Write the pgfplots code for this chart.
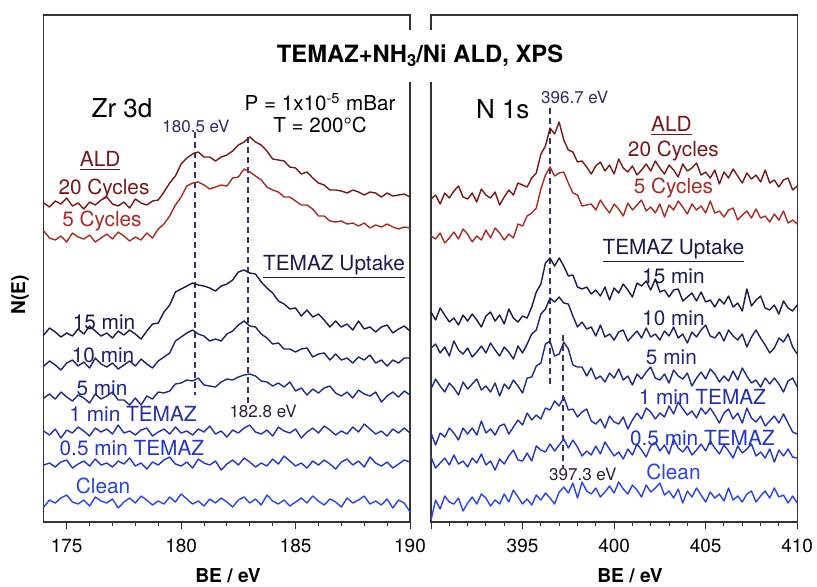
\documentclass[border=0pt]{standalone}
\usepackage{pgfplots}
\pgfplotsset{compat=1.18}
\usepackage{pgfplotstable}
\usepackage{fontspec}
\setmainfont{TeX Gyre Heros}

\definecolor{ca}{HTML}{761818}
\definecolor{cb}{HTML}{A62C25}
\definecolor{cc}{HTML}{161B48}
\definecolor{cd}{HTML}{1B2266}
\definecolor{ce}{HTML}{1F2A82}
\definecolor{cf}{HTML}{2430A8}
\definecolor{cg}{HTML}{2337C6}
\definecolor{ch}{HTML}{2A44E6}
\definecolor{dashc}{HTML}{3A3366}
\definecolor{evl}{HTML}{2E2A66}
\definecolor{evd}{HTML}{2A2035}

% Zr 3d panel; y values in picture rows (top = small)
\pgfplotstableread{
x a b c d e f g h
174.00 203 231 335 366 398 431 465 507
174.25 207 238 328 361 394 435 463 500
174.50 201 240 332 365 399 429 467 503
174.75 204 236 337 370 392 438 462 498
175.00 198 242 333 363 397 430 460 495
175.25 206 233 336 360 401 433 468 502
175.50 203 237 329 366 395 427 464 504
175.75 209 239 334 362 398 431 461 500
176.00 202 235 326 368 403 436 466 506
176.25 205 242 331 358 394 428 459 497
176.50 200 238 336 364 399 432 465 501
176.75 197 234 333 367 396 429 463 503
177.00 204 239 338 363 392 434 467 499
177.25 206 232 331 369 400 425 461 508
177.50 202 236 335 365 400 433 464 502
177.75 208 241 330 361 405 431 458 498
178.00 199 237 334 366 398 435 466 503
178.25 203 240 339 359 405 430 463 496
178.50 205 233 331 364 396 428 469 500
178.75 201 238 324 368 399 436 462 505
179.00 200 229 323 361 392 432 465 501
179.25 192 224 312 357 393 429 460 504
179.50 183 216 305 353 391 434 457 497
179.75 176 205 292 341 384 427 464 502
180.00 164 197 289 337 383 433 466 494
180.25 158 186 286 333 380 431 462 499
180.50 154 183 283 330 381 435 468 504
180.75 152 182 285 334 378 429 459 501
181.00 157 185 286 336 385 432 463 506
181.25 157 189 288 341 386 426 465 499
181.50 161 187 291 339 387 434 461 503
181.75 157 185 286 341 382 431 470 498
182.00 155 186 284 334 379 437 464 502
182.25 151 178 280 331 380 430 460 507
182.50 145 177 272 325 377 433 465 500
182.75 142 169 270 321 375 428 458 497
183.00 137 172 273 326 374 425 462 503
183.25 142 176 274 327 376 432 467 499
183.50 145 180 282 334 381 434 463 505
183.75 151 187 288 338 382 430 466 495
184.00 159 190 293 344 386 436 459 501
184.25 160 192 301 343 383 427 464 504
184.50 161 197 304 349 387 431 456 500
184.75 167 197 309 349 382 433 461 506
185.00 168 201 308 352 391 429 466 502
185.25 174 205 316 349 388 438 463 498
185.50 172 205 310 348 395 432 468 503
185.75 178 209 317 357 389 428 461 496
186.00 183 216 314 354 393 433 465 501
186.25 185 216 320 353 388 426 460 505
186.50 190 221 327 360 386 430 464 499
186.75 190 222 321 354 393 435 469 502
187.00 191 221 327 360 396 431 462 507
187.25 193 224 324 358 392 434 459 498
187.50 190 223 330 363 398 427 465 503
187.75 192 226 321 357 390 432 461 500
188.00 195 223 329 360 394 424 467 496
188.25 192 228 327 355 396 429 457 504
188.50 193 225 332 363 392 434 463 501
188.75 197 227 327 360 402 431 466 505
189.00 193 224 325 366 396 436 462 499
189.25 196 227 333 360 392 429 468 508
189.50 195 229 329 363 397 433 464 500
189.75 194 227 326 358 391 428 460 503
190.00 197 228 331 358 395 433 462 512
}\zr

% N 1s panel
\pgfplotstableread{
x a b c d e f g h
390.00 199 236 312 348 389 433 457 520
390.25 195 239 320 344 379 445 468 500
390.50 204 233 308 353 386 433 463 509
390.75 193 243 315 347 392 437 458 496
391.00 198 238 322 356 383 428 465 502
391.25 191 232 318 341 388 433 455 504
391.50 186 239 325 350 395 440 464 498
391.75 197 229 315 354 382 428 461 511
392.00 199 234 321 348 389 434 467 503
392.25 193 242 314 357 384 428 458 497
392.50 202 236 320 352 379 435 463 504
392.75 189 240 327 346 390 421 454 494
393.00 195 230 316 353 386 433 465 498
393.25 198 238 312 343 392 429 461 506
393.50 192 228 321 350 383 435 470 500
393.75 205 233 315 356 396 426 459 504
394.00 197 240 324 347 384 424 464 494
394.25 190 234 309 352 389 434 456 502
394.50 195 238 318 359 380 427 450 490
394.75 183 224 322 346 386 420 460 497
395.00 185 226 316 353 393 425 461 504
395.25 187 216 318 344 378 413 453 499
395.50 178 213 307 334 377 420 461 505
395.75 173 208 292 330 366 415 446 495
396.00 154 189 284 314 363 419 450 500
396.25 146 175 263 309 344 408 452 493
396.50 128 167 258 298 341 410 444 498
396.75 134 176 266 302 356 401 451 504
397.00 122 173 258 297 354 406 445 492
397.25 140 172 266 303 342 397 439 487
397.50 150 183 276 304 349 410 448 493
397.75 152 193 275 316 365 409 440 483
398.00 162 195 287 327 367 417 447 498
398.25 161 206 289 322 367 412 456 482
398.50 167 205 287 329 376 409 451 491
398.75 174 204 294 327 368 421 455 494
399.00 166 210 290 336 379 424 446 488
399.25 162 200 296 325 376 419 454 497
399.50 171 207 287 337 382 428 442 492
399.75 165 213 300 334 373 416 449 486
400.00 174 204 288 340 378 422 456 493
400.25 159 209 293 332 369 424 452 482
400.50 168 216 284 330 380 417 459 489
400.75 172 203 290 341 376 429 449 494
401.00 166 210 297 336 385 420 455 485
401.25 175 205 283 331 374 413 444 490
401.50 170 200 286 338 379 419 450 497
401.75 164 211 281 328 372 408 457 485
402.00 171 207 290 337 367 412 446 492
402.25 161 213 279 334 378 419 442 488
402.50 168 204 292 340 380 413 451 483
402.75 174 217 290 331 374 417 445 495
403.00 165 205 297 336 383 406 454 491
403.25 170 210 290 327 370 414 439 498
403.50 177 201 289 338 376 402 448 489
403.75 164 207 301 334 379 409 452 503
404.00 171 214 297 343 373 415 446 491
404.25 168 204 293 332 386 411 455 497
404.50 163 210 301 337 378 418 450 488
404.75 175 206 292 330 372 408 444 495
405.00 172 213 302 325 379 414 451 502
405.25 178 201 300 336 369 408 441 492
405.50 170 213 307 338 374 415 448 498
405.75 184 211 299 332 382 423 454 494
406.00 172 217 304 341 376 413 445 501
406.25 178 210 296 330 381 409 451 488
406.50 169 208 307 336 371 419 458 500
406.75 176 220 303 340 380 413 446 496
407.00 183 215 311 334 368 423 453 502
407.25 173 211 289 347 376 408 449 494
407.50 179 218 306 337 383 418 444 491
407.75 175 209 300 330 380 422 456 502
408.00 182 218 296 338 387 416 452 496
408.25 170 216 308 345 378 426 458 491
408.50 183 222 310 353 384 421 449 498
408.75 180 214 305 348 378 416 462 488
409.00 187 220 314 338 384 423 450 497
409.25 180 211 301 342 392 414 456 495
409.50 178 223 308 334 381 423 449 503
409.75 190 220 311 347 378 432 457 496
410.00 186 224 305 354 387 434 458 503
}\ns

\pgfplotsset{
  panel/.style={
    scale only axis, width=183.1pt, height=253.5pt, anchor=south west,
    ymin=15, ymax=522, y dir=reverse, ytick=\empty,
    tick align=outside, xtick pos=bottom, minor x tick num=4,
    major tick length=3.5pt, minor tick length=2pt,
    axis line style={draw=black!80, line width=0.6pt},
    every tick/.style={draw=black!80, line width=0.5pt},
    ticklabel style={font=\fontsize{9.5}{11}\selectfont},
    xticklabel style={yshift=-1.6pt},
    /pgf/number format/assume math mode=true,
    /pgf/number format/set thousands separator={},
    clip=false,
    every axis plot/.append style={line width=0.7pt, no markers, line join=round},
  },
}
\tikzset{
  lab/.style={font=\fontsize{10.4}{12}\selectfont, inner sep=0pt},
  evlab/.style={font=\fontsize{8.5}{10}\selectfont, inner sep=0pt},
  dsh/.style={draw=dashc, line width=0.8pt, dash pattern=on 3pt off 2pt},
}

\begin{document}
\begin{tikzpicture}
\path[use as bounding box] (0,0) rectangle (408.5pt,293pt);

\begin{axis}[panel, at={(21.9pt,32pt)}, xmin=174, xmax=190, xtick={175,180,185,190}]
  \addplot[dsh] coordinates {(180.6,132) (180.6,395)};
  \addplot[dsh] coordinates {(182.92,137) (182.92,403)};
  \addplot[ca] table[x=x,y=a]{\zr};
  \addplot[cb] table[x=x,y=b]{\zr};
  \addplot[cc] table[x=x,y=c]{\zr};
  \addplot[cd] table[x=x,y=d]{\zr};
  \addplot[ce] table[x=x,y=e]{\zr};
  \addplot[cf] table[x=x,y=f]{\zr};
  \addplot[cg] table[x=x,y=g]{\zr};
  \addplot[ch] table[x=x,y=h]{\zr};
  \node[font=\fontsize{13}{15}\selectfont, inner sep=0pt] at (axis cs:177.42,108) {Zr 3d};
  \node[lab, font=\fontsize{10.3}{12}\selectfont] at (axis cs:186.07,102) {P = 1x10\textsuperscript{-5} mBar};
  \node[lab, font=\fontsize{10.3}{12}\selectfont] at (axis cs:186.07,125) {T = 200°C};
  \node[evlab, text=evl] at (axis cs:180.65,126) {180.5 eV};
  \node[evlab, text=evd] at (axis cs:183.58,411) {182.8 eV};
  \node[lab, text=ca] at (axis cs:176.46,161) {\underline{ALD}};
  \node[lab, text=ca] at (axis cs:176.63,189) {20 Cycles};
  \node[lab, text=cb] at (axis cs:176.54,221) {5 Cycles};
  \node[lab, text=cc] at (axis cs:186.68,267) {\underline{TEMAZ Uptake}};
  \node[lab, text=cc] at (axis cs:176.63,322) {15 min};
  \node[lab, text=cd] at (axis cs:176.59,355) {10 min};
  \node[lab, text=ce] at (axis cs:176.54,388) {5 min};
  \node[lab, text=cf] at (axis cs:177.90,414) {1 min TEMAZ};
  \node[lab, text=cg] at (axis cs:177.85,448) {0.5 min TEMAZ};
  \node[lab, text=ch] at (axis cs:176.59,486) {Clean};
\end{axis}

\begin{axis}[panel, at={(215.5pt,32pt)}, xmin=390, xmax=410, xtick={390,395,400,405,410}, xticklabels={,395,400,405,410}]
  \addplot[dsh] coordinates {(396.5,108) (396.5,388)};
  \addplot[dsh] coordinates {(397.2,335) (397.2,468)};
  \addplot[ca] table[x=x,y=a]{\ns};
  \addplot[cb] table[x=x,y=b]{\ns};
  \addplot[cc] table[x=x,y=c]{\ns};
  \addplot[cd] table[x=x,y=d]{\ns};
  \addplot[ce] table[x=x,y=e]{\ns};
  \addplot[cf] table[x=x,y=f]{\ns};
  \addplot[cg] table[x=x,y=g]{\ns};
  \addplot[ch] table[x=x,y=h]{\ns};
  \node[font=\fontsize{13}{15}\selectfont, inner sep=0pt] at (axis cs:393.92,109) {N 1s};
  \node[evlab, text=evl] at (axis cs:397.85,97) {396.7 eV};
  \node[evlab, text=evd] at (axis cs:398.29,474) {397.3 eV};
  \node[lab, text=ca] at (axis cs:403.13,126) {\underline{ALD}};
  \node[lab, text=ca] at (axis cs:403.24,151) {20 Cycles};
  \node[lab, text=cb] at (axis cs:403.24,188) {5 Cycles};
  \node[lab, text=cc] at (axis cs:403.24,251) {\underline{TEMAZ Uptake}};
  \node[lab, text=cc] at (axis cs:403.24,276) {15 min};
  \node[lab, text=cd] at (axis cs:403.24,318) {10 min};
  \node[lab, text=ce] at (axis cs:403.13,357) {5 min};
  \node[lab, text=cf] at (axis cs:404.82,397) {1 min TEMAZ};
  \node[lab, text=cg] at (axis cs:404.82,438) {0.5 min TEMAZ};
  \node[lab, text=ch] at (axis cs:403.24,472) {Clean};
\end{axis}

\node[fill=white, inner xsep=2pt, minimum height=26pt, font=\bfseries\fontsize{11.9}{14}\selectfont] at (210pt,265pt) {TEMAZ+NH\raisebox{-0.3ex}{\fontsize{8.3}{9}\selectfont 3}/Ni ALD, XPS};
\node[rotate=90, font=\bfseries\fontsize{9.5}{11}\selectfont] at (10pt,145.5pt) {N(E)};
\node[font=\bfseries\fontsize{9.6}{11}\selectfont] at (114pt,5pt) {BE / eV};
\node[font=\bfseries\fontsize{9.6}{11}\selectfont] at (315pt,5pt) {BE / eV};
\end{tikzpicture}
\end{document}
